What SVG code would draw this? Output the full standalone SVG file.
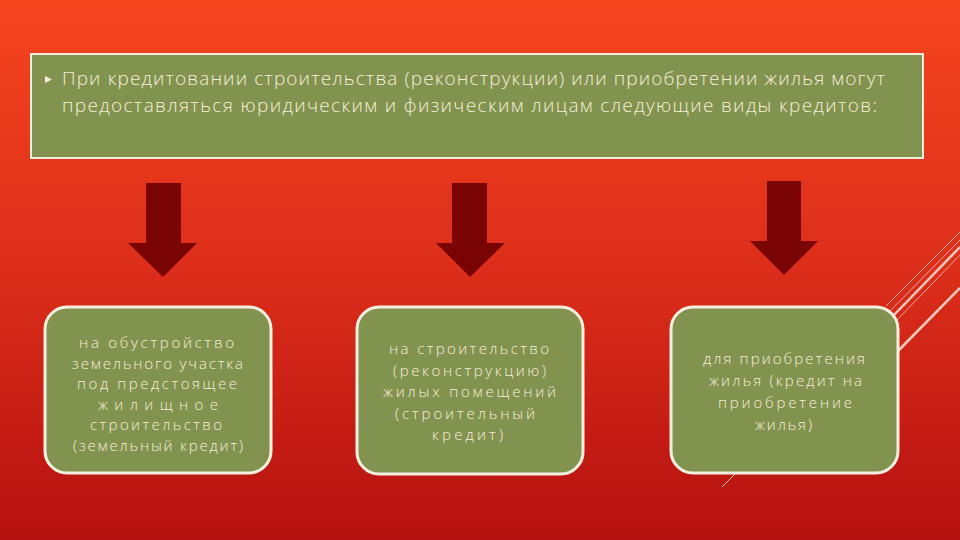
<svg xmlns="http://www.w3.org/2000/svg" width="960" height="540" viewBox="0 0 960 540">
<defs>
<linearGradient id="bg" x1="0" y1="0" x2="0" y2="1">
<stop offset="0" stop-color="#f5451f"/>
<stop offset="0.5" stop-color="#dc2e1a"/>
<stop offset="1" stop-color="#b51110"/>
</linearGradient>
<style>
.box{fill:#829350;stroke:#f6efdf;stroke-width:3}
.top{fill:#829350;stroke:#f6efdf;stroke-width:2}
.arrow{fill:#7a0303}
text{font-family:"Open Sans","DejaVu Sans","Liberation Sans",sans-serif;font-weight:300;fill:#f4efd6}
.t1{font-size:19px}
.t2{font-size:15px}
.deco{stroke:#f7c9bd;fill:none}
</style>
</defs>
<rect width="960" height="540" fill="url(#bg)"/>
<g id="decor">
<line class="deco" x1="960" y1="232" x2="886" y2="306" stroke-width="0.8"/>
<line class="deco" x1="960" y1="240" x2="890" y2="311" stroke-width="0.8"/>
<line class="deco" x1="960" y1="247" x2="893" y2="316" stroke-width="2.5"/>
<line class="deco" x1="960" y1="255" x2="897" y2="320" stroke-width="0.8"/>
<line class="deco" x1="960" y1="288" x2="897" y2="352" stroke-width="2.5"/>
<line class="deco" x1="736" y1="473" x2="722" y2="487" stroke-width="1"/>
</g>
<g id="header">
<rect class="top" x="31" y="54" width="892" height="104"/>
<polygon points="45,76 52,79.5 45,83" fill="#f4efd6"/>
<text class="t1" x="62" y="85" textLength="823" lengthAdjust="spacing">При кредитовании строительства (реконструкции) или приобретении жилья могут</text>
<text class="t1" x="62" y="112" textLength="815" lengthAdjust="spacing">предоставляться юридическим и физическим лицам следующие виды кредитов:</text>
</g>
<g id="connectors">
<polygon class="arrow" points="146,183 181,183 181,243 197,243 163,277 128,243 146,243"/>
<polygon class="arrow" points="452,183 487,183 487,243 505,243 470,277 436,243 452,243"/>
<polygon class="arrow" points="767,181 801,181 801,241 818,241 784,275 750,241 767,241"/>
</g>
<g id="node1">
<rect class="box" x="45" y="307" width="226" height="166" rx="22"/>
<text class="t2" x="79" y="348" textLength="155" lengthAdjust="spacing">на обустройство</text>
<text class="t2" x="72" y="368.5" textLength="171" lengthAdjust="spacing">земельного участка</text>
<text class="t2" x="77" y="389" textLength="160" lengthAdjust="spacing">под предстоящее</text>
<text class="t2" x="98" y="409.5" textLength="120" lengthAdjust="spacing">жилищное</text>
<text class="t2" x="90" y="430" textLength="132" lengthAdjust="spacing">строительство</text>
<text class="t2" x="73" y="450.5" textLength="170" lengthAdjust="spacing">(земельный кредит)</text>
</g>
<g id="node2">
<rect class="box" x="357" y="307" width="226" height="167" rx="22"/>
<text class="t2" x="389" y="354" textLength="160" lengthAdjust="spacing">на строительство</text>
<text class="t2" x="393" y="375.5" textLength="153" lengthAdjust="spacing">(реконструкцию)</text>
<text class="t2" x="383" y="397" textLength="173" lengthAdjust="spacing">жилых помещений</text>
<text class="t2" x="395" y="418.5" textLength="140" lengthAdjust="spacing">(строительный</text>
<text class="t2" x="432" y="440" textLength="71" lengthAdjust="spacing">кредит)</text>
</g>
<g id="node3">
<rect class="box" x="671" y="307" width="227" height="166" rx="22"/>
<text class="t2" x="703" y="364" textLength="162" lengthAdjust="spacing">для приобретения</text>
<text class="t2" x="709" y="386" textLength="153" lengthAdjust="spacing">жилья (кредит на</text>
<text class="t2" x="718" y="408" textLength="134" lengthAdjust="spacing">приобретение</text>
<text class="t2" x="755" y="430" textLength="57" lengthAdjust="spacing">жилья)</text>
</g>
</svg>
